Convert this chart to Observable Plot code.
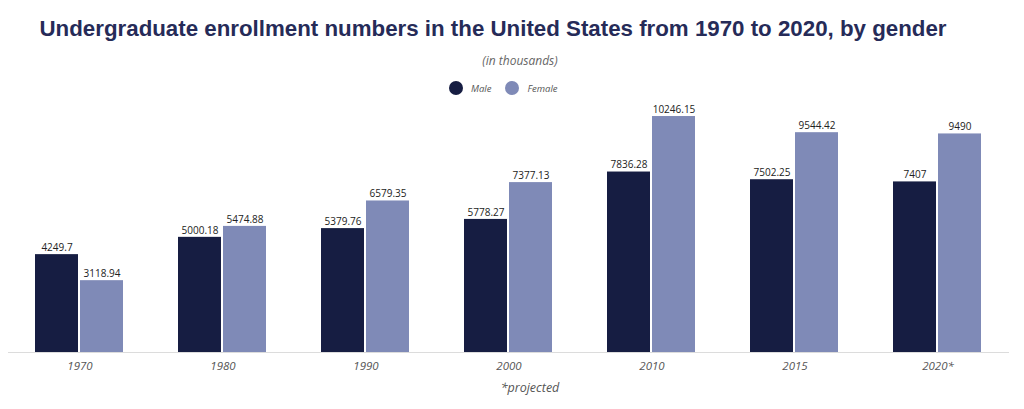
<!DOCTYPE html>
<html>
<head>
<meta charset="utf-8">
<script src="https://cdn.jsdelivr.net/npm/d3@7"></script>
<script src="https://cdn.jsdelivr.net/npm/@observablehq/plot@0.6"></script>
<style>
  html, body { margin: 0; padding: 0; background: #fff; width: 1024px; height: 409px; overflow: hidden; }
  #wrap { position: relative; width: 1024px; height: 409px; }
  #title { position: absolute; left: 0; width: 986px; top: 16px; text-align: center;
    font-family: "Liberation Sans", Arial, sans-serif; font-weight: bold; font-size: 22.3px; color: #262b58; white-space: nowrap; }
  #subtitle { position: absolute; left: 0; width: 1040px; top: 52px; text-align: center;
    font-family: "Open Sans", sans-serif; font-style: italic; font-size: 12px; color: #666; }
  #legend { position: absolute; top: 80px; left: 449px; height: 16px; display: flex; align-items: center;
    font-family: "Open Sans", sans-serif; font-style: italic; font-size: 9.5px; color: #555; }
  #legend .sw { width: 14px; height: 14px; border-radius: 50%; display: inline-block; margin-right: 8px; }
  #legend .item { display: flex; align-items: center; margin-right: 14px; }
  #chart { position: absolute; left: 0; top: 100px; }
  #caption { position: absolute; left: 0; width: 1060px; top: 379px; text-align: center;
    font-family: "Open Sans", sans-serif; font-style: italic; font-size: 12.5px; color: #555; }
</style>
</head>
<body>
<div id="wrap">
  <div id="title">Undergraduate enrollment numbers in the United States from 1970 to 2020, by gender</div>
  <div id="subtitle">(in thousands)</div>
  <div id="legend"></div>
  <div id="chart"></div>
  <div id="caption">*projected</div>
</div>
<script>
const years = ["1970", "1980", "1990", "2000", "2010", "2015", "2020*"];
const genders = ["Male", "Female"];
const male = [4249.7, 5000.18, 5379.76, 5778.27, 7836.28, 7502.25, 7407];
const female = [3118.94, 5474.88, 6579.35, 7377.13, 10246.15, 9544.42, 9490];
const colors = ["#161d42", "#7f8ab7"];

const data = [];
years.forEach((y, i) => {
  data.push({year: y, gender: "Male", value: male[i]});
  data.push({year: y, gender: "Female", value: female[i]});
});

const legend = document.getElementById("legend");
genders.forEach((g, i) => {
  const it = document.createElement("div");
  it.className = "item";
  it.innerHTML = `<span class="sw" style="background:${colors[i]}"></span><span>${g}</span>`;
  legend.appendChild(it);
});

const chart = Plot.plot({
  width: 1024,
  height: 309,
  marginLeft: 8,
  marginRight: 15,
  marginTop: 0,
  marginBottom: 57,
  fx: {domain: years, paddingInner: 0, paddingOuter: 0, label: null},
  x: {domain: genders, paddingInner: 0.0444, paddingOuter: 0.611, axis: null},
  y: {domain: [0, 10942], axis: null},
  color: {domain: genders, range: colors},
  style: {fontFamily: "Open Sans, sans-serif", background: "transparent"},
  marks: [
    Plot.ruleY([0], {stroke: "#dcdcdc", strokeWidth: 1}),
    Plot.barY(data, {fx: "year", x: "gender", y: "value", fill: "gender"}),
    Plot.text(data, {fx: "year", x: "gender", y: "value", text: d => String(d.value), dy: -7, fontSize: 10, fill: "#222"}),
    Plot.axisFx({anchor: "bottom", tickSize: 0, tickPadding: 9, fontSize: 11.5, fontStyle: "italic", color: "#555", label: null})
  ]
});
document.getElementById("chart").appendChild(chart);
</script>
</body>
</html>
